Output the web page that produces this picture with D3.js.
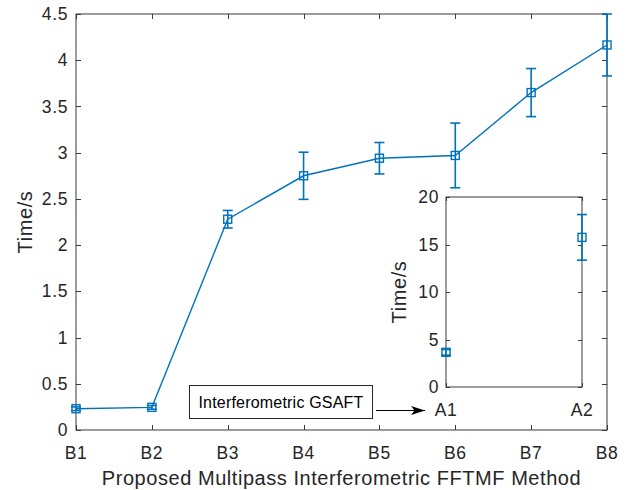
<!DOCTYPE html>
<html>
<head>
<meta charset="utf-8">
<script src="https://cdn.jsdelivr.net/npm/d3@7"></script>
<style>
  html, body { margin: 0; padding: 0; background: #fff; }
  svg { display: block; font-family: "Liberation Sans", Arial, Helvetica, sans-serif; }
</style>
</head>
<body>
<svg id="chart" width="629" height="490"></svg>
<script>
// Main series: proposed multipass methods
const categories = ["B1", "B2", "B3", "B4", "B5", "B6", "B7", "B8"];
const times = [0.23, 0.245, 2.28, 2.75, 2.94, 2.97, 3.65, 4.165];
const errors = [0.02, 0.02, 0.095, 0.255, 0.17, 0.35, 0.26, 0.335];
const yTicks = [0, 0.5, 1, 1.5, 2, 2.5, 3, 3.5, 4, 4.5];

// Inset series: reference methods
const insetCategories = ["A1", "A2"];
const insetTimes = [3.65, 15.75];
const insetErrors = [0.3, 2.4];
const insetYTicks = [0, 5, 10, 15, 20];

const blue = "#0072BD";
const axisColor = "#3a3a3a";
const textColor = "#262626";

const svg = d3.select("#chart");

function drawAxesBox(g, x, y, yTickVals, tickLen, opts) {
  const [x0, x1] = x.range();
  const [y0, y1] = y.range(); // y0 bottom, y1 top
  g.append("rect")
    .attr("x", x0).attr("y", y1)
    .attr("width", x1 - x0).attr("height", y0 - y1)
    .attr("fill", "#fff")
    .attr("stroke", axisColor).attr("stroke-width", 1);

  // y ticks on left and right, pointing inward
  yTickVals.forEach(v => {
    const yy = Math.round(y(v)) + 0.5;
    g.append("line").attr("x1", x0).attr("x2", x0 + tickLen).attr("y1", yy).attr("y2", yy)
      .attr("stroke", axisColor);
    g.append("line").attr("x1", x1).attr("x2", x1 - tickLen).attr("y1", yy).attr("y2", yy)
      .attr("stroke", axisColor);
    g.append("text").attr("x", x0 - opts.yPad).attr("y", y(v))
      .attr("dy", "0.35em").attr("text-anchor", "end")
      .attr("font-size", opts.fontSize).attr("fill", textColor)
      .attr("letter-spacing", opts.spacing)
      .text(d3.format("")(v));
  });

  // x ticks on bottom and top, pointing inward
  x.domain().forEach(c => {
    const xx = Math.round(x(c)) + 0.5;
    g.append("line").attr("x1", xx).attr("x2", xx).attr("y1", y0).attr("y2", y0 - tickLen)
      .attr("stroke", axisColor);
    g.append("line").attr("x1", xx).attr("x2", xx).attr("y1", y1).attr("y2", y1 + tickLen)
      .attr("stroke", axisColor);
    g.append("text").attr("x", x(c)).attr("y", y0 + opts.xPad)
      .attr("text-anchor", "middle")
      .attr("font-size", opts.fontSize).attr("fill", textColor)
      .attr("letter-spacing", opts.spacing)
      .text(c);
  });
}

function drawSeries(g, x, y, cats, vals, errs, connect) {
  const pts = cats.map((c, i) => ({ c, v: vals[i], e: errs[i] }));
  if (connect) {
    const line = d3.line().x(d => x(d.c)).y(d => y(d.v));
    g.append("path").datum(pts).attr("d", line)
      .attr("fill", "none").attr("stroke", blue).attr("stroke-width", 1.4);
  }

  const capW = 5;
  const eb = g.selectAll("g.err").data(pts).join("g").attr("class", "err")
    .attr("stroke", blue).attr("stroke-width", 1.6).attr("fill", "none");
  eb.append("line").attr("x1", d => x(d.c)).attr("x2", d => x(d.c))
    .attr("y1", d => y(d.v - d.e)).attr("y2", d => y(d.v + d.e));
  eb.append("line").attr("x1", d => x(d.c) - capW).attr("x2", d => x(d.c) + capW)
    .attr("y1", d => y(d.v + d.e)).attr("y2", d => y(d.v + d.e));
  eb.append("line").attr("x1", d => x(d.c) - capW).attr("x2", d => x(d.c) + capW)
    .attr("y1", d => y(d.v - d.e)).attr("y2", d => y(d.v - d.e));

  const ms = 8;
  g.selectAll("rect.mk").data(pts).join("rect").attr("class", "mk")
    .attr("x", d => x(d.c) - ms / 2).attr("y", d => y(d.v) - ms / 2)
    .attr("width", ms).attr("height", ms)
    .attr("fill", "none").attr("stroke", blue).attr("stroke-width", 1.4);
}

// ---- main axes ----
const x = d3.scalePoint().domain(categories).range([76, 607]).padding(0);
const y = d3.scaleLinear().domain([0, 4.5]).range([430, 14]);

const main = svg.append("g");
drawAxesBox(main, x, y, yTicks, 5, { fontSize: 17.5, yPad: 8, xPad: 29, spacing: 0.6 });
drawSeries(main, x, y, categories, times, errors, true);

main.append("text")
  .attr("x", (76 + 607) / 2).attr("y", 485)
  .attr("text-anchor", "middle").attr("font-size", 20).attr("fill", textColor)
  .attr("letter-spacing", 0.55)
  .text("Proposed Multipass Interferometric FFTMF Method");

main.append("text")
  .attr("transform", `translate(32, ${(14 + 430) / 2}) rotate(-90)`)
  .attr("text-anchor", "middle").attr("font-size", 20).attr("fill", textColor)
  .attr("letter-spacing", 0.6)
  .text("Time/s");

// ---- inset axes ----
const xi = d3.scalePoint().domain(insetCategories).range([446, 582]).padding(0);
const yi = d3.scaleLinear().domain([0, 20]).range([387, 197]);

const inset = svg.append("g");
drawAxesBox(inset, xi, yi, insetYTicks, 4, { fontSize: 17.5, yPad: 7, xPad: 29, spacing: 0.6 });
drawSeries(inset, xi, yi, insetCategories, insetTimes, insetErrors, false);

inset.append("text")
  .attr("transform", `translate(406, ${(197 + 387) / 2}) rotate(-90)`)
  .attr("text-anchor", "middle").attr("font-size", 20).attr("fill", textColor)
  .attr("letter-spacing", 0.6)
  .text("Time/s");

// ---- annotation: text box with arrow pointing at the inset ----
const defs = svg.append("defs");
defs.append("marker")
  .attr("id", "arrowHead")
  .attr("viewBox", "0 0 14 9").attr("refX", 14).attr("refY", 4.5)
  .attr("markerWidth", 14).attr("markerHeight", 9)
  .attr("markerUnits", "userSpaceOnUse").attr("orient", "auto")
  .append("path").attr("d", "M0,0 L14,4.5 L0,9 L3.5,4.5 Z").attr("fill", "#000");

const ann = svg.append("g");
ann.append("rect")
  .attr("x", 189.5).attr("y", 385.5).attr("width", 183).attr("height", 33)
  .attr("fill", "#fff").attr("stroke", "#262626").attr("stroke-width", 1);
ann.append("text")
  .attr("x", 281).attr("y", 402).attr("dy", "0.35em")
  .attr("text-anchor", "middle").attr("font-size", 16).attr("fill", "#000")
  .attr("letter-spacing", 0.2)
  .text("Interferometric GSAFT");
ann.append("line")
  .attr("x1", 376).attr("x2", 425).attr("y1", 410.5).attr("y2", 410.5)
  .attr("stroke", "#000").attr("stroke-width", 1)
  .attr("marker-end", "url(#arrowHead)");
</script>
</body>
</html>
